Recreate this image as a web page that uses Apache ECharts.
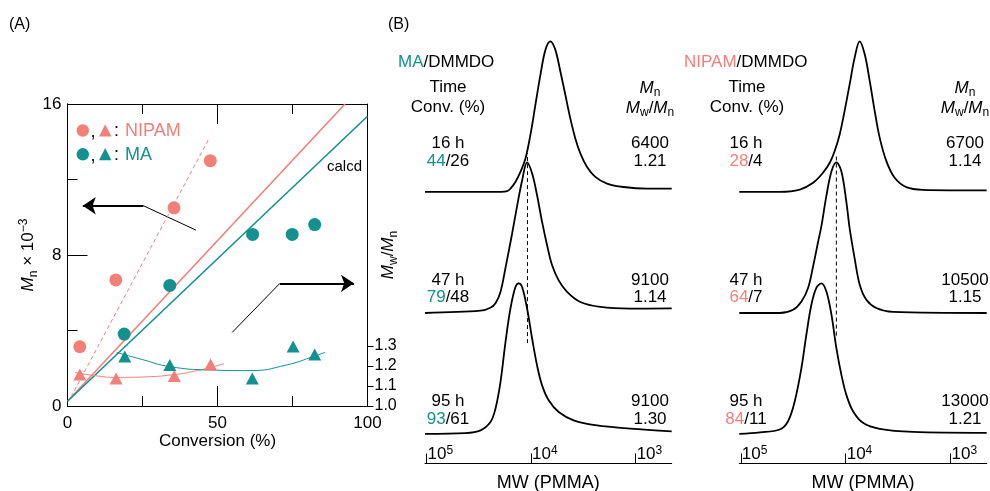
<!DOCTYPE html>
<html>
<head>
<meta charset="utf-8">
<script src="https://cdn.jsdelivr.net/npm/echarts@6/dist/echarts.min.js"></script>
<style>
html, body { margin: 0; padding: 0; background: #fff; }
#main { width: 990px; height: 491px; }
</style>
</head>
<body>
<div id="main"></div>
<script>
// panel A: Mn vs conversion (circles, left axis) and Mw/Mn (triangles, right axis)
const convNipamMn = [4.1, 16.1, 35.5, 47.6]
const mnNipam = [3.14, 6.68, 10.5, 13.0]
const convMaMn = [18.9, 34.1, 61.7, 74.9, 82.4]
const mnMa = [3.81, 6.39, 9.09, 9.09, 9.61]
const convNipamPdi = [4.1, 16.2, 35.6, 47.7]
const pdiNipam = [1.158, 1.138, 1.15, 1.208]
const convMaPdi = [19.1, 34.1, 61.6, 75.2, 82.4]
const pdiMa = [1.247, 1.205, 1.137, 1.297, 1.258]
// guide curves through the Mw/Mn points
const fitNipamX = [2.5, 10, 16.2, 25, 35.6, 42, 47.7, 52.2]
const fitNipamY = [1.167, 1.150, 1.143, 1.145, 1.157, 1.173, 1.193, 1.212]
const fitMaX = [16.4, 25, 34.1, 47.5, 60.8, 73, 82.4, 85.8]
const fitMaY = [1.268, 1.232, 1.197, 1.180, 1.177, 1.205, 1.250, 1.268]
// calcd lines (conversion, Mn)
const calcdNipam = [[0, 0.25], [92.5, 16]]
const calcdMa = [[0, 0.25], [100, 15.35]]
const dashNipam = [[1.2, 0.49], [46.9, 14.09]]
// pointer arrows (in Mn axis units)
const arrowLeft = [[42.8, 9.32], [25.3, 10.61], [5.1, 10.61]]
const arrowRight = [[54.9, 3.9], [70.8, 6.5], [95.5, 6.5]]
// tick values
const convMajor = [0, 50, 100]
const convMinor = [25, 75]
const mnMajor = [0, 8, 16]
const mnMinor = [4, 12]
const pdiTicks = [1.0, 1.1, 1.2, 1.3]

// panel B: GPC traces, [log10 MW, normalised height]
const ma16h = [[5.015, 0], [4.29, 0], [4.229, 0.004], [4.198, 0.021], [4.150, 0.065], [4.102, 0.132], [4.054, 0.221], [4.007, 0.377], [3.959, 0.577], [3.911, 0.777], [3.863, 0.943], [3.816, 1.0], [3.768, 0.943], [3.720, 0.799], [3.672, 0.643], [3.625, 0.488], [3.577, 0.355], [3.529, 0.255], [3.465, 0.165], [3.386, 0.099], [3.274, 0.055], [3.116, 0.032], [2.892, 0.021], [2.655, 0.021]]
const ma47h = [[5.015, 0], [4.484, 0.015], [4.389, 0.035], [4.341, 0.065], [4.293, 0.14], [4.245, 0.30], [4.181, 0.53], [4.134, 0.71], [4.086, 0.88], [4.038, 1.0], [3.990, 0.926], [3.943, 0.782], [3.895, 0.605], [3.847, 0.450], [3.799, 0.317], [3.736, 0.217], [3.656, 0.140], [3.529, 0.073], [3.338, 0.040], [3.052, 0.029], [2.655, 0.031]]
const ma95h = [[5.015, 0], [4.628, 0.005], [4.484, 0.023], [4.389, 0.078], [4.341, 0.167], [4.293, 0.344], [4.245, 0.610], [4.198, 0.831], [4.150, 0.975], [4.118, 1.0], [4.086, 0.975], [4.038, 0.831], [3.990, 0.632], [3.943, 0.455], [3.895, 0.322], [3.832, 0.223], [3.736, 0.145], [3.593, 0.090], [3.370, 0.056], [3.052, 0.035], [2.655, 0.017]]
const nipam16h = [[5.015, 0], [4.629, 0], [4.438, 0.015], [4.311, 0.060], [4.216, 0.127], [4.152, 0.193], [4.105, 0.271], [4.057, 0.383], [4.010, 0.539], [3.962, 0.715], [3.914, 0.893], [3.867, 1.0], [3.819, 0.915], [3.771, 0.737], [3.724, 0.539], [3.676, 0.360], [3.612, 0.204], [3.533, 0.093], [3.422, 0.031], [3.264, 0.013], [2.655, 0.009]]
const nipam47h = [[5.015, 0], [4.629, 0], [4.502, 0.022], [4.422, 0.077], [4.359, 0.166], [4.311, 0.31], [4.264, 0.47], [4.231, 0.58], [4.184, 0.78], [4.136, 0.94], [4.089, 1.0], [4.041, 0.94], [3.994, 0.74], [3.962, 0.56], [3.914, 0.36], [3.867, 0.19], [3.803, 0.088], [3.708, 0.033], [3.550, 0.007], [2.655, 0]]
const nipam95h = [[5.015, 0], [4.819, 0.01], [4.629, 0.029], [4.550, 0.084], [4.486, 0.217], [4.422, 0.439], [4.375, 0.660], [4.327, 0.859], [4.280, 0.970], [4.231, 1.0], [4.184, 0.946], [4.136, 0.792], [4.089, 0.570], [4.041, 0.392], [3.994, 0.259], [3.930, 0.150], [3.835, 0.073], [3.676, 0.033], [3.359, 0.013], [2.655, 0.007]]
const maDash = [[4.035, 0.80], [4.035, 2.06]]
const nipamDash = [[4.089, 0.85], [4.089, 2.04]]
const mwTicks = [3, 4, 5]

// table text
const times = ['16 h', '47 h', '95 h']
const maConv = [[44, 26], [79, 48], [93, 61]]
const maMn = ['6400', '9100', '9100']
const maPdi = ['1.21', '1.14', '1.30']
const nipamConv = [[28, 4], [64, 7], [84, 11]]
const nipamMn = ['6700', '10500', '13000']
const nipamPdi = ['1.14', '1.15', '1.21']

const FONT = '"Liberation Sans", Arial, Helvetica, sans-serif'
const TEAL = '#12918e'
const SALMON = '#f47f79'
const traceOffsets = [1.805, 1.0, 0.197]

const chart = echarts.init(document.getElementById('main'))

function shift (arr, off) {
  return arr.map(p => [p[0], p[1] + off])
}

function txt (x, y, text, size, align, rich, color) {
  const style = {
    text: text,
    fill: color || '#000',
    fontSize: size,
    fontFamily: FONT,
    align: align || 'left',
    verticalAlign: 'middle',
    textAlign: align || 'left',
    textVerticalAlign: 'middle'
  }
  if (rich) style.rich = rich
  return { type: 'text', x: x, y: y, z: 10, style: style }
}

function richSet (size) {
  return {
    n: { fontSize: size, fontFamily: FONT, fill: '#000', lineHeight: 22 },
    i: { fontSize: size, fontFamily: FONT, fill: '#000', fontStyle: 'italic', lineHeight: 22 },
    s: { fontSize: 12, fontFamily: FONT, fill: '#000', verticalAlign: 'bottom', lineHeight: 12 },
    t: { fontSize: size, fontFamily: FONT, fill: TEAL, lineHeight: 22 },
    r: { fontSize: size, fontFamily: FONT, fill: SALMON, lineHeight: 22 }
  }
}

function mnRich () {
  return {
    i: { fontSize: 17, fontFamily: FONT, color: '#000', fontStyle: 'italic', lineHeight: 22 },
    n: { fontSize: 17, fontFamily: FONT, color: '#000', lineHeight: 22 },
    s: { fontSize: 12, fontFamily: FONT, color: '#000', lineHeight: 12, verticalAlign: 'bottom' },
    p: { fontSize: 12, fontFamily: FONT, color: '#000', lineHeight: 12, verticalAlign: 'top' }
  }
}

function axisLine () {
  return { show: true, onZero: false, lineStyle: { color: '#000', width: 1 } }
}

function ticks (values, len, inside) {
  return { show: true, inside: inside, length: len, customValues: values, lineStyle: { color: '#000', width: 1 } }
}

// conversion axis of panel A; the extra copies only carry the short ticks
function convAxis (pos, tickVals, len, showLabel) {
  return {
    gridIndex: 0,
    type: 'value',
    position: pos,
    min: 0,
    max: 100,
    axisLine: axisLine(),
    axisTick: ticks(tickVals, len, true),
    splitLine: { show: false },
    axisLabel: { show: showLabel, customValues: convMajor, fontSize: 17, color: '#000', fontFamily: FONT, margin: 9 },
    name: showLabel ? 'Conversion (%)' : '',
    nameLocation: 'middle',
    nameGap: 27,
    nameMoveOverlap: false,
    nameTextStyle: { fontSize: 17, color: '#000', fontFamily: FONT }
  }
}

function mwAxis (grid) {
  return {
    gridIndex: grid,
    type: 'value',
    position: 'bottom',
    inverse: true,
    min: 2.655,
    max: 5.015,
    axisLine: axisLine(),
    axisTick: ticks(mwTicks, 10, true),
    splitLine: { show: false },
    axisLabel: {
      inside: true,
      customValues: mwTicks,
      align: 'left',
      margin: -1,
      formatter: v => '{b|10}{p|' + Math.round(v) + '}',
      rich: {
        b: { fontSize: 17, fontFamily: FONT, color: '#000', lineHeight: 20, padding: [0, 0, 0, 1] },
        p: { fontSize: 12, fontFamily: FONT, color: '#000', lineHeight: 12, verticalAlign: 'top' }
      }
    },
    name: 'MW (PMMA)',
    nameLocation: 'middle',
    nameGap: 11,
    nameMoveOverlap: false,
    nameTextStyle: { fontSize: 18, color: '#000', fontFamily: FONT }
  }
}

function gpcY (grid) {
  return { gridIndex: grid, type: 'value', min: 0, max: 2.9, show: false }
}

function trace (panel, data, off) {
  return {
    type: 'line',
    xAxisIndex: panel + 1,
    yAxisIndex: panel + 2,
    data: shift(data, off),
    smooth: 0.35,
    showSymbol: false,
    silent: true,
    lineStyle: { color: '#000', width: 1.8 }
  }
}

function dash (panel, data) {
  return {
    type: 'line',
    xAxisIndex: panel + 1,
    yAxisIndex: panel + 2,
    data: data,
    showSymbol: false,
    lineStyle: { color: '#000', width: 1, type: [4, 3] }
  }
}

function scatter (xs, ys, yIdx, sym, size, color) {
  return {
    type: 'scatter',
    xAxisIndex: 0,
    yAxisIndex: yIdx,
    symbol: sym,
    symbolSize: size,
    itemStyle: { color: color, opacity: 1 },
    data: xs.map((x, k) => [x, ys[k]]),
    z: 5
  }
}

function plain (data, yIdx, color, width, type, smooth) {
  return {
    type: 'line',
    xAxisIndex: 0,
    yAxisIndex: yIdx,
    data: data,
    smooth: smooth || false,
    showSymbol: false,
    lineStyle: { color: color, width: width, type: type || 'solid' },
    z: 3
  }
}

function arrow (pts) {
  return [
    {
      type: 'lines',
      coordinateSystem: 'cartesian2d',
      xAxisIndex: 0,
      yAxisIndex: 0,
      symbol: ['none', 'none'],
      lineStyle: { color: '#000', width: 1, opacity: 1, curveness: 0 },
      data: [{ coords: [pts[0], pts[1]] }]
    },
    {
      type: 'lines',
      coordinateSystem: 'cartesian2d',
      xAxisIndex: 0,
      yAxisIndex: 0,
      symbol: ['none', 'arrow'],
      symbolSize: [8, 13],
      itemStyle: { color: '#000' },
      lineStyle: { color: '#000', width: 2, opacity: 1, curveness: 0 },
      data: [{ coords: [pts[1], pts[2]] }]
    }
  ]
}

// panel texts
const graphics = [
  txt(9, 25, '(A)', 16),
  txt(388, 25, '(B)', 16),
  { type: 'circle', shape: { cx: 82.8, cy: 130.5, r: 6.2 }, style: { fill: SALMON } },
  { type: 'polygon', shape: { points: [[105.2, 124.3], [111.4, 136.5], [99, 136.5]] }, style: { fill: SALMON } },
  txt(90.5, 132, ',', 18),
  txt(114, 131, ':', 18),
  txt(125, 131, 'NIPAM', 18, 'left', null, SALMON),
  { type: 'circle', shape: { cx: 82.8, cy: 154.3, r: 6.2 }, style: { fill: TEAL } },
  { type: 'polygon', shape: { points: [[105.2, 148.1], [111.4, 160.3], [99, 160.3]] }, style: { fill: TEAL } },
  txt(90.5, 156, ',', 18),
  txt(114, 155, ':', 18),
  txt(125, 155, 'MA', 18, 'left', null, TEAL),
  txt(327, 167, 'calcd', 15),
  // MA table
  txt(398, 62.5, '{t|MA}{n|/DMMDO}', 17, 'left', richSet(17)),
  txt(448, 87, 'Time', 17, 'center'),
  txt(448, 107, 'Conv. (%)', 17, 'center'),
  txt(650, 88, '{i|M}{s|n}', 17, 'center', richSet(17)),
  txt(650, 108, '{i|M}{s|w}{n|/}{i|M}{s|n}', 17, 'center', richSet(17)),
  // NIPAM table
  txt(684, 62.5, '{r|NIPAM}{n|/DMMDO}', 17, 'left', richSet(17)),
  txt(747, 87, 'Time', 17, 'center'),
  txt(747, 107, 'Conv. (%)', 17, 'center'),
  txt(965, 88, '{i|M}{s|n}', 17, 'center', richSet(17)),
  txt(965, 108, '{i|M}{s|w}{n|/}{i|M}{s|n}', 17, 'center', richSet(17))
]

const rowY = [[143.3, 161.7], [280, 297], [401.7, 419.3]]
times.forEach((t, k) => {
  graphics.push(txt(448, rowY[k][0], t, 17, 'center'))
  graphics.push(txt(448, rowY[k][1], '{t|' + maConv[k][0] + '}{n|/' + maConv[k][1] + '}', 17, 'center', richSet(17)))
  graphics.push(txt(650, rowY[k][0], maMn[k], 17, 'center'))
  graphics.push(txt(650, rowY[k][1], maPdi[k], 17, 'center'))
  graphics.push(txt(746, rowY[k][0], t, 17, 'center'))
  graphics.push(txt(746, rowY[k][1], '{r|' + nipamConv[k][0] + '}{n|/' + nipamConv[k][1] + '}', 17, 'center', richSet(17)))
  graphics.push(txt(965, rowY[k][0], nipamMn[k], 17, 'center'))
  graphics.push(txt(965, rowY[k][1], nipamPdi[k], 17, 'center'))
})

const option = {
  animation: false,
  backgroundColor: '#fff',
  grid: [
    { left: 67.5, right: 622.5, top: 104, bottom: 85, containLabel: false, outerBoundsMode: 'none' },
    { left: 425, right: 318.3, top: 27, bottom: 27.5, containLabel: false, outerBoundsMode: 'none' },
    { left: 739.3, right: 3.3, top: 27, bottom: 27.5, containLabel: false, outerBoundsMode: 'none' }
  ],
  xAxis: [
    convAxis('bottom', convMajor, 20, true),
    mwAxis(1),
    mwAxis(2),
    convAxis('top', convMajor, 20, false),
    convAxis('bottom', convMinor, 10, false),
    convAxis('top', convMinor, 10, false)
  ],
  yAxis: [
    {
      gridIndex: 0,
      type: 'value',
      position: 'left',
      min: 0,
      max: 16,
      axisLine: axisLine(),
      axisTick: ticks(mnMajor, 20, true),
      splitLine: { show: false },
      axisLabel: { customValues: mnMajor, fontSize: 17, color: '#000', fontFamily: FONT, margin: 6 },
      name: '{i|M}{s|n}{n| × 10}{p|−3}',
      nameLocation: 'middle',
      nameGap: 28,
      nameRotate: 90,
      nameMoveOverlap: false,
      nameTextStyle: { rich: mnRich() }
    },
    {
      gridIndex: 0,
      type: 'value',
      position: 'right',
      min: 1.0,
      max: 2.51,
      axisLine: axisLine(),
      axisTick: ticks(pdiTicks, 6, false),
      splitLine: { show: false },
      axisLabel: {
        customValues: pdiTicks,
        formatter: v => v.toFixed(1),
        fontSize: 16,
        color: '#000',
        fontFamily: FONT,
        margin: 7
      },
      name: '{i|M}{s|w}{n|/}{i|M}{s|n}',
      nameLocation: 'middle',
      nameGap: 10,
      nameRotate: 90,
      nameMoveOverlap: false,
      nameTextStyle: { rich: mnRich() }
    },
    gpcY(1),
    gpcY(2),
    {
      gridIndex: 0,
      type: 'value',
      position: 'left',
      min: 0,
      max: 16,
      axisLine: axisLine(),
      axisTick: ticks(mnMinor, 10, true),
      axisLabel: { show: false },
      splitLine: { show: false }
    }
  ],
  graphic: graphics,
  series: [
    plain(calcdNipam, 0, SALMON, 1.6),
    plain(calcdMa, 0, TEAL, 1.6),
    plain(dashNipam, 0, SALMON, 1, [4, 3]),
    plain(fitNipamX.map((x, k) => [x, fitNipamY[k]]), 1, SALMON, 1, 'solid', true),
    plain(fitMaX.map((x, k) => [x, fitMaY[k]]), 1, TEAL, 1, 'solid', true),
    scatter(convNipamMn, mnNipam, 0, 'circle', 13, SALMON),
    scatter(convMaMn, mnMa, 0, 'circle', 13, TEAL),
    scatter(convNipamPdi, pdiNipam, 1, 'triangle', [13, 12], SALMON),
    scatter(convMaPdi, pdiMa, 1, 'triangle', [13, 12], TEAL),
    ...arrow(arrowLeft),
    ...arrow(arrowRight),
    trace(0, ma16h, traceOffsets[0]),
    trace(0, ma47h, traceOffsets[1]),
    trace(0, ma95h, traceOffsets[2]),
    dash(0, maDash),
    trace(1, nipam16h, traceOffsets[0]),
    trace(1, nipam47h, traceOffsets[1]),
    trace(1, nipam95h, traceOffsets[2]),
    dash(1, nipamDash)
  ]
}
chart.setOption(option)
// paint straight away (the frame ticks only came out on an immediate paint)
chart.getZr().refreshImmediately()
</script>
</body>
</html>
